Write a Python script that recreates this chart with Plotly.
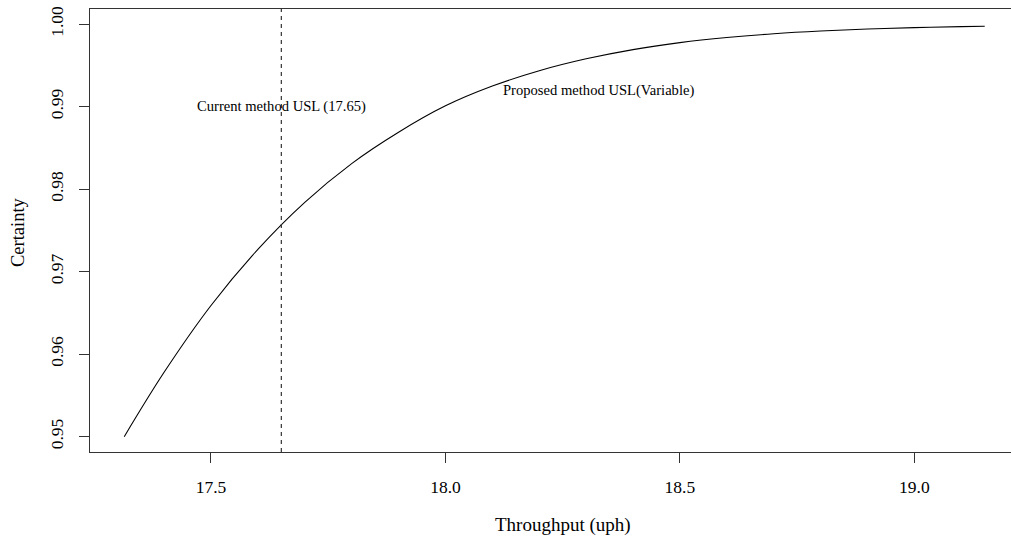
import plotly.graph_objects as go

# Data
throughput = [17.315, 17.4, 17.5, 17.6, 17.7, 17.8, 17.9, 18.0, 18.1, 18.2,
              18.3, 18.4, 18.5, 18.6, 18.7, 18.8, 18.9, 19.0, 19.1, 19.15]
certainty = [0.9500, 0.9578, 0.9659, 0.9727, 0.9784, 0.9831, 0.9869, 0.9901,
             0.99250, 0.99436, 0.99580, 0.99692, 0.99776, 0.99838, 0.99884,
             0.99917, 0.99941, 0.99958, 0.99970, 0.99975]
usl_current = 17.65
x_ticks = [17.5, 18.0, 18.5, 19.0]
y_ticks = [0.95, 0.96, 0.97, 0.98, 0.99, 1.00]
label_current = "Current method USL (17.65)"
label_proposed = "Proposed method USL(Variable)"
x_title = "Throughput (uph)"
y_title = "Certainty"

FONT = "Liberation Serif"
W, H = 1011, 541
L, R, T, B = 90, 0, 9, 89
pw, ph = W - L - R, H - T - B

fig = go.Figure()
fig.add_trace(go.Scatter(x=throughput, y=certainty, mode="lines",
                         line=dict(color="black", width=1.1, shape="spline", smoothing=1.0),
                         showlegend=False, hoverinfo="skip"))
fig.add_vline(x=usl_current, line=dict(color="#333333", width=1.2, dash="4px,4px"))

fig.add_annotation(x=usl_current, y=0.99, text=label_current, showarrow=False,
                   xanchor="center", yanchor="middle",
                   font=dict(family=FONT, size=14.6, color="black"))
fig.add_annotation(x=18.326, y=0.992, text=label_proposed, showarrow=False,
                   xanchor="center", yanchor="middle",
                   font=dict(family=FONT, size=14.6, color="black"))

# axis titles placed at the reference pixel positions
fig.add_annotation(x=(563 - L) / pw, y=(H - B - 525) / ph, xref="paper", yref="paper",
                   text=x_title, showarrow=False, xanchor="center", yanchor="middle",
                   font=dict(family=FONT, size=19, color="black"))
fig.add_annotation(x=(18 - L) / pw, y=(H - B - 232) / ph, xref="paper", yref="paper",
                   text=y_title, showarrow=False, textangle=-90,
                   xanchor="center", yanchor="middle",
                   font=dict(family=FONT, size=18.5, color="black"))

fig.update_layout(
    width=W, height=H, margin=dict(l=L, r=R, t=T, b=B, autoexpand=False),
    paper_bgcolor="white", plot_bgcolor="white",
    font=dict(family=FONT, size=17, color="black"),
    xaxis=dict(range=[17.242, 19.206], tickvals=x_ticks, tickformat=".1f",
               tickfont=dict(family=FONT, size=17.5, color="black"), automargin=False,
               showgrid=False, zeroline=False, showline=True, linecolor="#333333",
               linewidth=1, mirror=True, ticks="outside", ticklen=10, tickcolor="#333333",
               ticklabelstandoff=9),
    yaxis=dict(range=[0.94814, 1.00184], tickvals=y_ticks, tickformat=".2f",
               tickfont=dict(family=FONT, size=17.5, color="black"), automargin=False,
               showgrid=False, zeroline=False, showline=True, linecolor="#333333",
               linewidth=1, mirror=False, ticks="outside", ticklen=10, tickcolor="#333333",
               tickangle=-90, ticklabelstandoff=9),
)
fig.write_html("out.html", config={"displayModeBar": False},
               post_script="document.body.style.margin='0';document.body.style.overflow='hidden';")
